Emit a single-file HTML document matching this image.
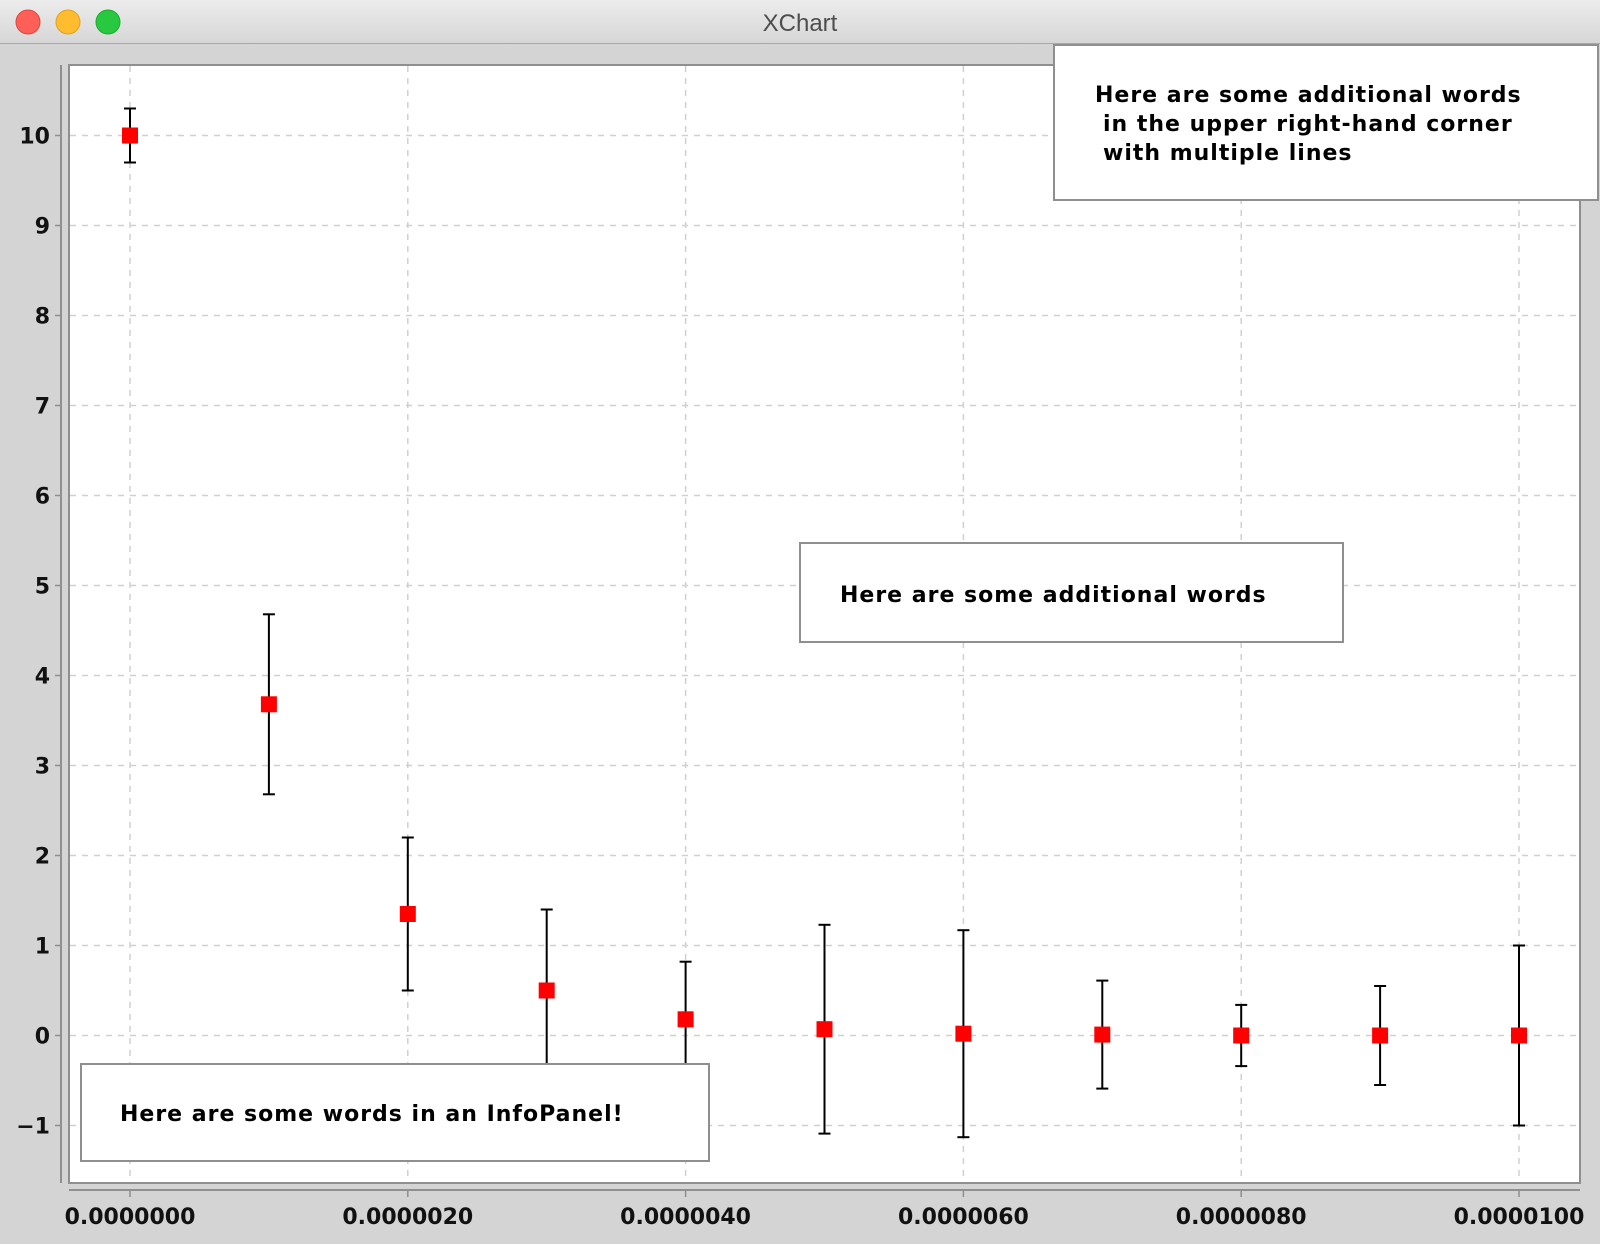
<!DOCTYPE html>
<html><head><meta charset="utf-8"><style>
html,body{margin:0;padding:0;width:1600px;height:1244px;overflow:hidden;background:#d4d4d4;font-family:"DejaVu Sans","Liberation Sans",sans-serif}
</style></head><body>
<svg id="c" width="1600" height="1244" xmlns="http://www.w3.org/2000/svg">
<defs><linearGradient id="tb" x1="0" y1="0" x2="0" y2="1"><stop offset="0" stop-color="#ececec"/><stop offset="1" stop-color="#d6d6d6"/></linearGradient></defs>
<rect x="0" y="0" width="1600" height="44" fill="url(#tb)"/>
<line x1="0" y1="43.5" x2="1600" y2="43.5" stroke="#a8a8a8"/>
<circle cx="28" cy="22" r="12" fill="#fe5f57" stroke="#e0443e"/>
<circle cx="68" cy="22" r="12" fill="#febc2e" stroke="#dea123"/>
<circle cx="108" cy="22" r="12" fill="#28c840" stroke="#1aab29"/>
<text x="800" y="31" text-anchor="middle" font-size="24" fill="#4d4d4d" font-family="Liberation Sans, sans-serif">XChart</text>
<rect x="69" y="65" width="1511" height="1118" fill="#fff" stroke="#8f8f8f" stroke-width="2"/>
<g id="grid"></g><g id="axes"></g><g id="marks"></g><g id="panels"></g>
</svg>
<script>
const xVals=[0,1e-6,2e-6,3e-6,4e-6,5e-6,6e-6,7e-6,8e-6,9e-6,1e-5];
const yVals=[10,3.68,1.35,0.5,0.18,0.07,0.02,0.01,0,0,0];
const errVals=[0.3,1.0,0.85,0.9,0.64,1.16,1.15,0.6,0.34,0.55,1.0];
const yTicks=[-1,0,1,2,3,4,5,6,7,8,9,10];
const xTicks=[0,2e-6,4e-6,6e-6,8e-6,1e-5];
const xTickLabels=["0.0000000","0.0000020","0.0000040","0.0000060","0.0000080","0.0000100"];
const NS="http://www.w3.org/2000/svg";
const xs=v=>130+v/1e-5*1389;
const ys=v=>1035.5-v*90;
function mk(p,tag,a){const e=document.createElementNS(NS,tag);for(const k in a)e.setAttribute(k,a[k]);p.appendChild(e);return e;}
const G=document.getElementById('grid'),A=document.getElementById('axes'),M=document.getElementById('marks'),P=document.getElementById('panels');
yTicks.forEach(t=>{const y=ys(t);
 const l=mk(G,'line',{x1:70,x2:1579,y1:y,y2:y,stroke:'#d0d0d0','stroke-width':1.5,'stroke-dasharray':'6 6'});
 
 mk(A,'line',{x1:55,x2:61,y1:y,y2:y,stroke:'#8f8f8f','stroke-width':1.5});
 const tx=mk(A,'text',{x:50,y:y+8,'text-anchor':'end','font-size':22,'font-weight':'bold',fill:'#111'});
 tx.textContent=t<0?'\u2212'+(-t):String(t);
 
});
xTicks.forEach((t,i)=>{const x=xs(t);
 const l=mk(G,'line',{x1:x,x2:x,y1:66,y2:1182,stroke:'#d0d0d0','stroke-width':1.5,'stroke-dasharray':'6 6'});
 
 mk(A,'line',{x1:x,x2:x,y1:1190,y2:1197,stroke:'#8f8f8f','stroke-width':1.5});
 const tx=mk(A,'text',{x:x,y:1224,'text-anchor':'middle','font-size':22,'font-weight':'bold',fill:'#111'});
 tx.textContent=xTickLabels[i];
 
});
const ya=mk(A,'line',{x1:61,x2:61,y1:65,y2:1183,stroke:'#8f8f8f','stroke-width':2});

const xa=mk(A,'line',{x1:69,x2:1580,y1:1190,y2:1190,stroke:'#8f8f8f','stroke-width':2});

xVals.forEach((xv,i)=>{const x=xs(xv),y=ys(yVals[i]),t=ys(yVals[i]+errVals[i]),b=ys(yVals[i]-errVals[i]);
 const g=mk(M,'g',{});
 
 mk(g,'line',{x1:x,x2:x,y1:t,y2:b,stroke:'#000','stroke-width':2});
 mk(g,'line',{x1:x-6,x2:x+6,y1:t,y2:t,stroke:'#000','stroke-width':2});
 mk(g,'line',{x1:x-6,x2:x+6,y1:b,y2:b,stroke:'#000','stroke-width':2});
 const r=mk(M,'rect',{x:x-8,y:y-8,width:16,height:16,fill:'#ff0000'});
 
});
function panel(name,x,y,w,h,lines,tx,ty,lh){
 const g=mk(P,'g',{});
 
 mk(g,'rect',{x:x,y:y,width:w,height:h,fill:'#fff',stroke:'#8f8f8f','stroke-width':2});
 lines.forEach((s,i)=>{const t=mk(g,'text',{x:tx+(i?8:0),y:ty+i*lh,'font-size':22,'font-weight':'bold','letter-spacing':'1',fill:'#000'});t.textContent=s;});
}
panel('info-panel',81,1064,628,97,['Here are some words in an InfoPanel!'],120,1121,0);
panel('annotation-box-center',800,543,543,99,['Here are some additional words'],840,602,0);
panel('annotation-box-corner',1054,45,544,155,['Here are some additional words','in the upper right-hand corner','with multiple lines'],1095,102,29);
</script>
</body></html>
